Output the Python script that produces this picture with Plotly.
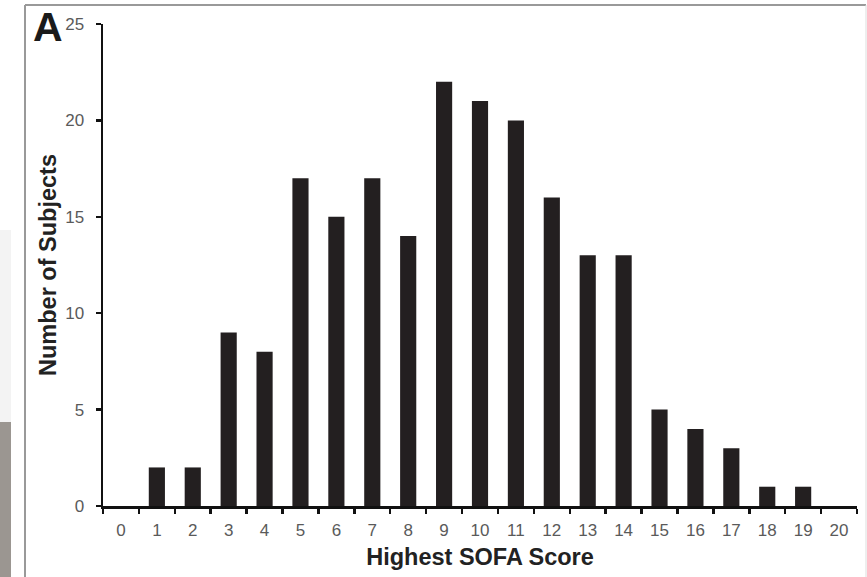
import plotly.graph_objects as go

scores = list(range(0, 21))
subjects = [0, 2, 2, 9, 8, 17, 15, 17, 14, 22, 21, 20, 16, 13, 13, 5, 4, 3, 1, 1, 0]
y_ticks = [0, 5, 10, 15, 20, 25]
x_labels = [str(s) for s in scores]

L, R, T, B = 103, 857, 24, 506
W, H = 867, 577


def px(x):
    return (x - L) / (R - L)


def py(y):
    return (B - y) / (B - T)


fig = go.Figure()
fig.add_trace(go.Bar(
    x=scores, y=subjects, width=0.45,
    marker=dict(color="#231f20", line=dict(width=0)),
))

font_family = "Liberation Sans, Arial, sans-serif"

fig.update_layout(
    width=W, height=H,
    margin=dict(l=L, r=W - R, t=T, b=H - B),
    paper_bgcolor="white", plot_bgcolor="white",
    showlegend=False,
    font=dict(family=font_family),
    xaxis=dict(
        range=[-0.5, 20.5],
        tickmode="array", tickvals=scores, ticktext=x_labels,
        ticks="", showgrid=False, zeroline=False,
        showline=True, linecolor="#111", linewidth=2.5,
        tickfont=dict(size=17, color="#5a5a5a"),
        ticklabelstandoff=7,
        minor=dict(tickmode="array", tickvals=[s - 0.5 for s in scores] + [20.5],
                   ticks="outside", ticklen=5, tickwidth=2.5, tickcolor="#111",
                   showgrid=False),
        title=dict(text="<b>Highest SOFA Score</b>", font=dict(size=23.5, color="#222"),
                   standoff=10),
        fixedrange=True,
    ),
    yaxis=dict(
        range=[0, 25],
        tickmode="array", tickvals=y_ticks,
        ticks="outside", ticklen=5, tickwidth=2.5, tickcolor="#111",
        showgrid=False, zeroline=False,
        showline=True, linecolor="#111", linewidth=2.5,
        tickfont=dict(size=17, color="#5a5a5a"),
        ticklabelstandoff=8,
        title=dict(text="<b>Number of Subjects</b>", font=dict(size=23.5, color="#222"),
                   standoff=2),
        fixedrange=True,
    ),
    shapes=[
        dict(type="rect", xref="paper", yref="paper", x0=px(0), x1=px(11), y0=py(422), y1=py(230),
             fillcolor="#f3f3f3", line=dict(width=0), layer="below"),
        dict(type="rect", xref="paper", yref="paper", x0=px(0), x1=px(11), y0=py(577), y1=py(422),
             fillcolor="#9b9691", line=dict(width=0), layer="below"),
        dict(type="line", xref="paper", yref="paper", x0=px(25), x1=px(25), y0=py(577), y1=py(5),
             line=dict(color="#999", width=2)),
        dict(type="line", xref="paper", yref="paper", x0=px(25), x1=px(866), y0=py(5), y1=py(5),
             line=dict(color="#999", width=2)),
        dict(type="line", xref="paper", yref="paper", x0=px(866), x1=px(866), y0=py(577), y1=py(5),
             line=dict(color="#ddd", width=1)),
    ],
    annotations=[
        dict(text="<b>A</b>", xref="paper", yref="paper", x=px(31), y=py(27),
             xanchor="left", yanchor="middle", showarrow=False,
             font=dict(size=41, color="#1a1a1a", family=font_family)),
    ],
)

fig.write_html(
    "out.html",
    config={"displayModeBar": False, "staticPlot": True},
    post_script="document.body.style.margin='0';document.body.style.overflow='hidden';",
)
